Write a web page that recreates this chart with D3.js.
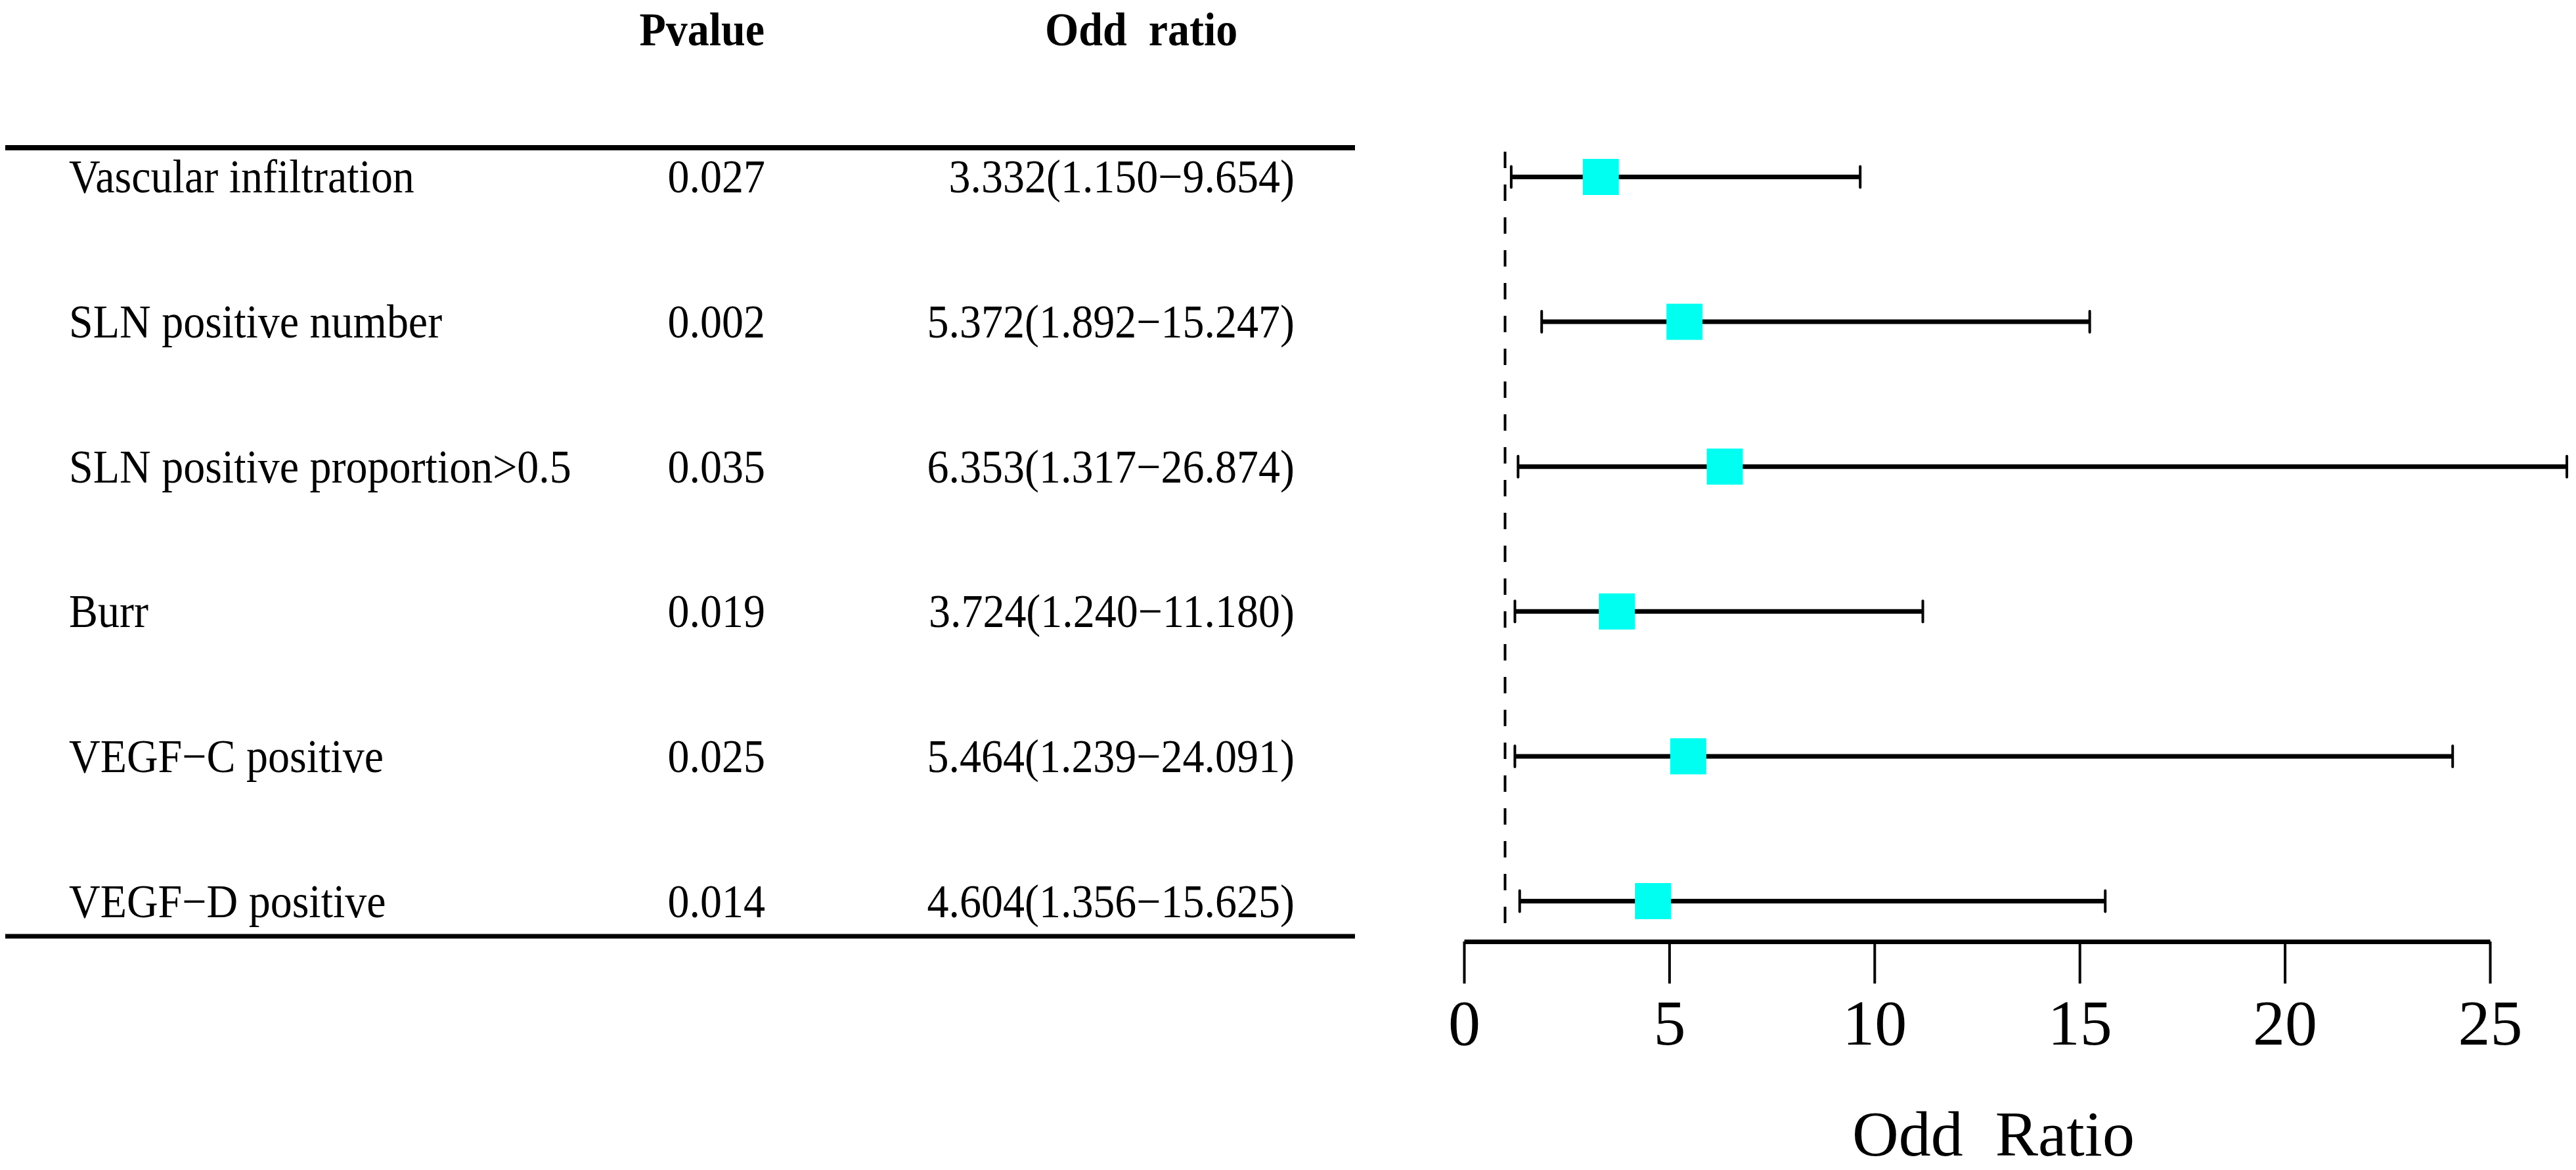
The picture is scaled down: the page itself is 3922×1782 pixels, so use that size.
<!DOCTYPE html>
<html>
<head>
<meta charset="utf-8">
<script src="https://cdn.jsdelivr.net/npm/d3@7"></script>
<style>
  html, body { margin: 0; padding: 0; background: #ffffff; }
  svg { display: block; }
  text { font-family: "Liberation Serif", "Times New Roman", serif; white-space: pre; }
</style>
</head>
<body>
<svg id="chart" width="3922" height="1782"></svg>
<script>
// ---- data ----
const categories = [
  "Vascular infiltration",
  "SLN positive number",
  "SLN positive proportion>0.5",
  "Burr",
  "VEGF\u2212C positive",
  "VEGF\u2212D positive"
];
const pValues = ["0.027", "0.002", "0.035", "0.019", "0.025", "0.014"];
const oddRatio = [3.332, 5.372, 6.353, 3.724, 5.464, 4.604];
const lowerCI = [1.150, 1.892, 1.317, 1.240, 1.239, 1.356];
const upperCI = [9.654, 15.247, 26.874, 11.180, 24.091, 15.625];
const tickValues = [0, 5, 10, 15, 20, 25];
const headers = ["Pvalue", "Odd  ratio"];
const axisTitle = "Odd  Ratio";
const refValue = 1;

const rows = categories.map((c, i) => ({
  label: c, p: pValues[i], or: oddRatio[i], lo: lowerCI[i], hi: upperCI[i],
  orText: oddRatio[i].toFixed(3) + "(" + lowerCI[i].toFixed(3) + "\u2212" + upperCI[i].toFixed(3) + ")"
}));

const svg = d3.select("#chart");

const x = d3.scaleLinear().domain([0, 25]).range([2229, 3791]);
const y = d3.scaleLinear().domain([0, categories.length - 1]).range([269.5, 1372.5]);
const yText = d3.scaleLinear().domain([0, categories.length - 1]).range([293, 1397]);

// ---- table ----
const fs = 66;
const vs = 1.09; // vertical stretch of table text
function put(sel, xx, yy) {
  return sel.attr("transform", `translate(${xx},${yy}) scale(1,${vs})`);
}
put(svg.append("text"), 1164, 69).attr("text-anchor", "end")
  .attr("font-size", fs).attr("font-weight", "bold").text(headers[0]);
put(svg.append("text"), 1591, 69).attr("text-anchor", "start")
  .attr("font-size", fs).attr("font-weight", "bold").text(headers[1]);

svg.append("line").attr("x1", 8).attr("x2", 2063).attr("y1", 225).attr("y2", 225)
  .attr("stroke", "#000").attr("stroke-width", 8);
svg.append("line").attr("x1", 8).attr("x2", 2063).attr("y1", 1426).attr("y2", 1426)
  .attr("stroke", "#000").attr("stroke-width", 7);

const tg = svg.append("g");
tg.selectAll("text.lab").data(rows).join("text").attr("class", "lab")
  .attr("transform", (d, i) => `translate(105,${yText(i)}) scale(1,${vs})`)
  .attr("font-size", fs).text(d => d.label);
tg.selectAll("text.pv").data(rows).join("text").attr("class", "pv")
  .attr("transform", (d, i) => `translate(1165,${yText(i)}) scale(1,${vs})`)
  .attr("text-anchor", "end").attr("font-size", fs).text(d => d.p);
tg.selectAll("text.ort").data(rows).join("text").attr("class", "ort")
  .attr("transform", (d, i) => `translate(1971,${yText(i)}) scale(1,${vs})`)
  .attr("text-anchor", "end").attr("font-size", fs).text(d => d.orText);

// ---- forest plot ----
svg.append("line").attr("x1", x(refValue)).attr("x2", x(refValue))
  .attr("y1", 231).attr("y2", 1410)
  .attr("stroke", "#000").attr("stroke-width", 4).attr("stroke-dasharray", "25,25");

const fg = svg.append("g");
fg.selectAll("line.ci").data(rows).join("line").attr("class", "ci")
  .attr("x1", d => x(d.lo)).attr("x2", d => x(d.hi))
  .attr("y1", (d, i) => y(i)).attr("y2", (d, i) => y(i))
  .attr("stroke", "#000").attr("stroke-width", 7);
fg.selectAll("line.capl").data(rows).join("line").attr("class", "capl")
  .attr("x1", d => x(d.lo)).attr("x2", d => x(d.lo))
  .attr("y1", (d, i) => y(i) - 16).attr("y2", (d, i) => y(i) + 16)
  .attr("stroke", "#000").attr("stroke-width", 4).attr("stroke-linecap", "round");
fg.selectAll("line.caph").data(rows).join("line").attr("class", "caph")
  .attr("x1", d => x(d.hi)).attr("x2", d => x(d.hi))
  .attr("y1", (d, i) => y(i) - 16).attr("y2", (d, i) => y(i) + 16)
  .attr("stroke", "#000").attr("stroke-width", 4).attr("stroke-linecap", "round");
const bs = 55;
fg.selectAll("rect.box").data(rows).join("rect").attr("class", "box")
  .attr("x", d => x(d.or) - bs / 2).attr("y", (d, i) => y(i) - bs / 2)
  .attr("width", bs).attr("height", bs).attr("fill", "#00fff0");

// ---- axis ----
const axis = d3.axisBottom(x).tickValues(tickValues).tickSize(64).tickSizeOuter(0).tickPadding(23);
const ag = svg.append("g").attr("transform", "translate(0,1434)").call(axis);
ag.select(".domain").attr("stroke", "#000").attr("stroke-width", 7);
ag.selectAll(".tick line").attr("stroke", "#000").attr("stroke-width", 4);
ag.selectAll(".tick text").attr("font-size", 98)
  .attr("font-family", "'Liberation Serif', 'Times New Roman', serif").attr("fill", "#000");

svg.append("text").attr("x", 3035).attr("y", 1760).attr("text-anchor", "middle")
  .attr("font-size", 98).text(axisTitle);
</script>
</body>
</html>
